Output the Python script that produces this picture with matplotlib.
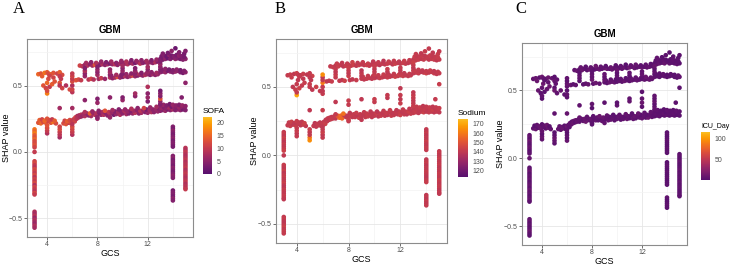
import numpy as np
import matplotlib.pyplot as plt
import matplotlib.colors as mcolors
from matplotlib.ticker import MultipleLocator

# ---- data: GCS dependence of SHAP values (GBM) ----
# vertical strips at integer GCS
strip3_gcs = 3
strip3_shap = [0.17, 0.155, 0.14, 0.125, 0.11, 0.095, 0.08, 0.065, 0.05, 0.035, 0.0,
               -0.07, -0.085, -0.10, -0.115, -0.13, -0.145, -0.16, -0.175, -0.19, -0.205,
               -0.22, -0.235, -0.25, -0.265, -0.28, -0.295, -0.31, -0.32,
               -0.45, -0.465, -0.48, -0.495, -0.51, -0.525, -0.54, -0.555, -0.57]
strip3_sofa = [16, 15, 17, 14, 13, 15, 12, 12, 13, 11, 10,
               11, 12, 10, 9, 12, 11, 10, 12, 9, 11, 10, 12, 8, 11, 10, 9, 12, 10,
               8, 7, 9, 6, 8, 7, 6, 8, 7]
strip3_sodium = [141, 142, 140, 143, 141, 139, 142, 140, 141, 143, 140,
                 142, 141, 140, 143, 139, 141, 142, 140, 141, 143, 140, 139, 142, 141, 140, 142, 141, 140,
                 141, 142, 140, 139, 141, 143, 140, 142, 141]
strip3_icu = [6, 9, 4, 12, 7, 5, 10, 8, 3, 6, 9,
              5, 7, 11, 4, 8, 6, 10, 3, 7, 9, 5, 12, 6, 8, 4, 7, 10, 5,
              6, 9, 4, 8, 5, 7, 11, 6, 4]

strip14_gcs = 14
strip14_shap = [0.19, 0.175, 0.16, 0.145, 0.13, 0.115, 0.10, 0.085, 0.07, 0.055, 0.04,
                -0.03, -0.045, -0.06, -0.075, -0.09, -0.105, -0.12, -0.135, -0.15, -0.165, -0.18, -0.195,
                -0.29, -0.305, -0.32, -0.335, -0.35, -0.365]
strip14_sofa = [4, 3, 5, 4, 3, 4, 5, 3, 4, 4, 3,
                4, 5, 3, 4, 4, 3, 5, 4, 3, 4, 5, 4,
                3, 4, 4, 3, 5, 4]
strip14_sodium = [141, 140, 142, 139, 141, 140, 143, 141, 140, 142, 141,
                  140, 141, 142, 139, 141, 140, 142, 141, 140, 139, 141, 142,
                  140, 141, 139, 142, 140, 141]
strip14_icu = [4, 6, 3, 5, 7, 4, 5, 3, 6, 4, 5,
               3, 4, 6, 5, 3, 7, 4, 5, 6, 3, 4, 5,
               6, 4, 3, 5, 7, 4]

strip15_gcs = 15
strip15_shap = [0.03, 0.015, 0.0, -0.015, -0.03, -0.045, -0.06, -0.075, -0.09, -0.105, -0.12,
                -0.135, -0.15, -0.165, -0.18, -0.195, -0.21, -0.225, -0.24, -0.255, -0.27, -0.28]
strip15_sofa = [9, 8, 10, 9, 8, 9, 10, 8, 9, 9, 10, 8, 9, 10, 9, 8, 9, 10, 8, 9, 9, 10]
strip15_sodium = [141, 142, 140, 141, 143, 140, 141, 142, 139, 141, 140,
                  142, 141, 140, 143, 141, 140, 142, 141, 139, 141, 140]
strip15_icu = [5, 7, 4, 6, 8, 5, 4, 6, 9, 5, 7, 4, 6, 5, 8, 4, 6, 7, 5, 4, 6, 5]

# lower band (SHAP ~0.2 - 0.37)
low_gcs = [3.3, 3.5, 3.7, 3.9, 4.1, 4.3, 4.5, 4.7, 3.4, 3.6, 3.8, 4.0, 4.2, 4.4, 4.6,
           5.3, 5.5, 5.7, 5.9, 5.4, 5.6, 5.8, 6.0,
           6.1, 6.25, 6.4, 6.55, 6.7, 6.2, 6.35, 6.5, 6.65,
           6.8, 7.0, 7.3, 7.5, 7.8, 8.0, 8.3, 8.5, 8.8, 9.0, 9.3, 9.5, 9.8, 10.0, 10.3, 10.5,
           10.8, 11.0, 11.3, 11.5, 11.8, 12.0, 12.3, 12.5, 12.8,
           6.9, 7.15, 7.4, 7.65, 7.9, 8.15, 8.4, 8.65, 8.9, 9.15, 9.4, 9.65, 9.9, 10.15, 10.4,
           10.65, 10.9, 11.15, 11.4, 11.65, 11.9, 12.15, 12.4, 12.65, 12.9,
           7.0, 7.6, 8.1, 8.6, 9.2, 9.7, 10.2, 10.7, 11.2, 11.7, 12.2, 12.7,
           13.0, 13.2, 13.4, 13.6, 13.8, 14.0, 14.2, 14.4, 14.6, 14.8, 15.0,
           13.1, 13.3, 13.5, 13.7, 13.9, 14.1, 14.3, 14.5, 14.7, 14.9,
           13.0, 13.25, 13.5, 13.75, 14.0, 14.25, 14.5, 14.75, 15.0]
low_shap = [0.22, 0.215, 0.225, 0.22, 0.23, 0.22, 0.225, 0.215, 0.24, 0.245, 0.235, 0.25, 0.24, 0.245, 0.235,
            0.215, 0.21, 0.22, 0.215, 0.235, 0.23, 0.24, 0.235,
            0.245, 0.26, 0.27, 0.275, 0.28, 0.23, 0.25, 0.26, 0.265,
            0.27, 0.27, 0.275, 0.27, 0.28, 0.275, 0.28, 0.28, 0.275, 0.285, 0.28, 0.285, 0.28, 0.29, 0.285, 0.29,
            0.29, 0.295, 0.29, 0.295, 0.30, 0.295, 0.30, 0.30, 0.305,
            0.285, 0.29, 0.29, 0.295, 0.29, 0.295, 0.30, 0.295, 0.30, 0.30, 0.305, 0.30, 0.305, 0.31, 0.305,
            0.31, 0.31, 0.315, 0.31, 0.315, 0.32, 0.315, 0.32, 0.32, 0.325,
            0.30, 0.305, 0.31, 0.31, 0.315, 0.32, 0.32, 0.325, 0.33, 0.33, 0.335, 0.34,
            0.31, 0.315, 0.31, 0.32, 0.315, 0.32, 0.315, 0.32, 0.315, 0.32, 0.315,
            0.33, 0.335, 0.33, 0.335, 0.34, 0.335, 0.33, 0.335, 0.34, 0.335,
            0.35, 0.355, 0.35, 0.36, 0.355, 0.35, 0.355, 0.35, 0.345]
low_sofa = [13, 15, 12, 14, 11, 13, 16, 12, 14, 11, 15, 13, 12, 10, 14,
            12, 13, 10, 12, 11, 14, 12, 10,
            10, 11, 8, 7, 9, 11, 9, 8, 7,
            6, 8, 5, 7, 9, 4, 6, 8, 5, 7, 3, 6, 8, 5, 7, 4,
            6, 9, 5, 7, 4, 6, 8, 5, 6,
            7, 5, 14, 6, 8, 4, 7, 5, 9, 6, 4, 7, 5, 8, 6,
            4, 7, 5, 9, 6, 3, 7, 5, 6, 4,
            8, 6, 5, 13, 7, 4, 6, 8, 5, 11, 6, 7,
            5, 4, 6, 3, 5, 7, 4, 6, 5, 3, 4,
            6, 4, 5, 7, 3, 5, 4, 6, 5, 4,
            5, 6, 4, 3, 6, 5, 4, 6, 5]
low_sodium = [141, 142, 140, 143, 141, 139, 142, 140, 141, 143, 140, 142, 141, 140, 143,
              141, 140, 142, 141, 139, 141, 140, 142,
              141, 140, 142, 141, 140, 143, 141, 140, 142,
              141, 140, 157, 155, 141, 142, 140, 141, 143, 140, 141, 142, 140, 141, 139, 142,
              141, 140, 142, 141, 140, 143, 141, 140, 142,
              141, 152, 156, 141, 140, 142, 141, 139, 141, 140, 142, 141, 140, 143, 141,
              140, 142, 141, 140, 141, 142, 140, 141, 143, 140,
              141, 158, 140, 142, 141, 140, 139, 141, 142, 140, 141, 140,
              141, 142, 140, 141, 143, 140, 141, 142, 140, 141, 140,
              142, 141, 140, 141, 142, 140, 141, 143, 140, 141,
              140, 141, 142, 140, 141, 142, 140, 141, 142]
low_icu = [6, 9, 4, 12, 7, 5, 10, 8, 3, 6, 9, 5, 7, 11, 4,
           8, 6, 10, 3, 7, 9, 5, 12,
           6, 8, 4, 7, 10, 5, 6, 9, 4,
           8, 5, 7, 11, 6, 4, 9, 5, 7, 3, 6, 8, 5, 7, 4, 6,
           9, 5, 7, 4, 6, 8, 5, 10, 6,
           7, 5, 9, 6, 8, 4, 7, 5, 9, 6, 4, 7, 5, 8, 6,
           4, 7, 5, 9, 6, 3, 7, 5, 6, 4,
           8, 6, 5, 10, 7, 4, 6, 8, 5, 9, 6, 7,
           5, 4, 6, 3, 5, 7, 4, 6, 5, 3, 4,
           6, 4, 5, 7, 3, 5, 4, 6, 5, 4,
           5, 6, 4, 3, 6, 5, 4, 6, 5]

# upper bands (SHAP ~0.53 - 0.78)
up_gcs = [6.6, 6.8, 7.0, 7.2, 7.4, 7.6, 7.8, 8.0, 8.2, 8.4, 8.6, 8.8, 9.0, 9.2, 9.4, 9.6,
          9.8, 10.0, 10.2, 10.4, 10.6, 10.8, 11.0, 11.2, 11.4, 11.6, 11.8, 12.0, 12.2, 12.4, 12.6, 12.8,
          7.1, 7.5, 7.9, 8.3, 8.7, 9.1, 9.5, 9.9, 10.3, 10.7, 11.1, 11.5, 11.9, 12.3, 12.7,
          6.3, 6.5, 6.7, 7.3, 7.5, 7.7, 8.1, 8.3, 8.6, 9.0, 9.2, 9.4, 9.6, 9.8, 10.0,
          10.2, 10.4, 10.6, 10.8, 11.0, 11.2, 11.4, 11.6, 11.8, 12.0, 12.2, 12.4, 12.6, 12.8,
          9.1, 9.5, 9.9, 10.3, 10.7, 11.1, 11.5, 11.9, 12.3, 12.7,
          13.0, 13.2, 13.4, 13.6, 13.8, 14.0, 14.2, 14.4, 14.6, 14.8, 15.0,
          13.1, 13.3, 13.5, 13.7, 13.9, 14.1, 14.3, 14.5, 14.7, 14.9,
          13.2, 13.6, 13.9, 14.2, 14.5, 14.9, 15.0,
          13.0, 13.2, 13.4, 13.6, 13.8, 14.0, 14.2, 14.4, 14.6, 14.8, 15.0,
          13.1, 13.4, 13.7, 14.0, 14.3, 14.6, 14.9]
up_shap = [0.65, 0.645, 0.655, 0.65, 0.66, 0.65, 0.655, 0.66, 0.655, 0.66, 0.655, 0.66, 0.665, 0.66, 0.66, 0.655,
           0.665, 0.67, 0.665, 0.66, 0.67, 0.665, 0.67, 0.675, 0.665, 0.67, 0.675, 0.67, 0.675, 0.67, 0.675, 0.68,
           0.67, 0.675, 0.67, 0.68, 0.675, 0.68, 0.67, 0.685, 0.68, 0.69, 0.685, 0.69, 0.685, 0.69, 0.695,
           0.54, 0.545, 0.54, 0.545, 0.55, 0.545, 0.55, 0.555, 0.55, 0.56, 0.555, 0.56, 0.565, 0.56, 0.565,
           0.57, 0.565, 0.57, 0.575, 0.57, 0.575, 0.58, 0.575, 0.58, 0.585, 0.58, 0.585, 0.58, 0.585,
           0.575, 0.58, 0.58, 0.585, 0.59, 0.59, 0.595, 0.59, 0.60, 0.595,
           0.70, 0.695, 0.70, 0.705, 0.70, 0.71, 0.70, 0.705, 0.70, 0.695, 0.70,
           0.72, 0.725, 0.72, 0.73, 0.725, 0.72, 0.73, 0.725, 0.72, 0.715,
           0.74, 0.745, 0.76, 0.78, 0.75, 0.74, 0.76,
           0.60, 0.605, 0.60, 0.61, 0.605, 0.60, 0.605, 0.61, 0.60, 0.595, 0.60,
           0.62, 0.625, 0.62, 0.615, 0.62, 0.615, 0.61]
up_sofa = [11, 9, 6, 8, 5, 7, 13, 6, 4, 8, 5, 7, 3, 6, 9, 5,
           7, 4, 6, 8, 5, 7, 3, 6, 9, 5, 4, 7, 6, 5, 8, 4,
           7, 5, 8, 6, 4, 7, 5, 6, 8, 4, 6, 5, 7, 4, 6,
           13, 12, 10, 9, 11, 8, 7, 10, 6, 8, 5, 7, 13, 6, 4,
           8, 5, 7, 12, 6, 4, 7, 5, 8, 6, 4, 7, 5, 6,
           5, 7, 4, 6, 5, 8, 4, 6, 5, 7,
           4, 3, 5, 2, 4, 3, 5, 4, 3, 4, 5,
           3, 4, 2, 5, 3, 4, 3, 5, 4, 3,
           4, 3, 5, 2, 4, 3, 4,
           5, 4, 6, 3, 5, 4, 6, 5, 4, 3, 5,
           4, 5, 3, 4, 5, 3, 4]
up_sodium = [141, 142, 140, 143, 141, 139, 142, 140, 141, 143, 140, 142, 141, 140, 143, 141,
             140, 142, 141, 139, 141, 140, 142, 141, 140, 143, 141, 140, 142, 141, 140, 141,
             142, 140, 141, 143, 140, 141, 142, 140, 141, 139, 142, 141, 140, 142, 141,
             141, 140, 142, 141, 140, 143, 141, 140, 142, 141, 140, 141, 142, 140, 141,
             139, 142, 141, 140, 142, 141, 140, 143, 141, 140, 142, 141, 140, 141,
             142, 141, 140, 141, 142, 140, 141, 143, 140, 141,
             140, 141, 142, 140, 141, 142, 140, 141, 142, 140, 141,
             142, 140, 141, 142, 140, 141, 142, 140, 141, 142,
             141, 140, 142, 141, 140, 142, 141,
             140, 141, 142, 140, 141, 143, 140, 141, 142, 140, 141,
             142, 141, 140, 141, 142, 140, 141]
up_icu = [6, 9, 4, 12, 7, 5, 10, 8, 3, 6, 9, 5, 7, 11, 4, 8,
          6, 10, 3, 7, 9, 5, 12, 6, 8, 4, 7, 10, 5, 6, 9, 4,
          8, 5, 7, 11, 6, 4, 9, 5, 7, 3, 6, 8, 5, 7, 4,
          9, 5, 7, 4, 6, 8, 5, 10, 6, 7, 5, 9, 6, 8, 4,
          7, 5, 9, 6, 4, 7, 5, 8, 6, 4, 7, 5, 9, 6,
          3, 7, 5, 6, 4, 8, 6, 5, 10, 7,
          4, 6, 8, 5, 9, 6, 7, 5, 4, 6, 3,
          5, 7, 4, 6, 5, 3, 4, 6, 4, 5,
          7, 3, 5, 4, 6, 5, 4,
          6, 4, 5, 3, 6, 5, 4, 6, 5, 4, 6,
          5, 4, 6, 3, 5, 4, 6]

# sparse points: left cluster, vertical columns, points between bands
sparse_gcs = [3.3, 3.5, 3.8, 4.0, 4.1, 4.3, 4.5, 4.8, 5.0, 5.2,
              3.7, 3.9, 4.0, 4.1, 4.2, 4.4, 4.5, 4.6, 4.0, 4.0, 5.0, 5.0, 5.0, 5.2, 5.5, 5.8, 5.1, 3.6, 4.2,
              4.0, 4.0, 4.0, 4.0, 5.0, 5.0, 5.0, 5.0, 5.0, 6.0, 6.0, 6.0, 6.0, 6.0,
              6.0, 6.0, 6.0, 6.0, 6.0, 6.0, 6.0, 6.0,
              7.0, 7.0, 7.0, 7.0, 8.0, 8.0, 8.0, 8.0, 9.0, 9.0, 9.0, 10.0, 10.0, 10.0, 10.0,
              11.0, 11.0, 11.0, 12.0, 12.0, 12.0, 13.0, 13.0, 13.0, 13.0,
              7.0, 8.0, 8.0, 9.0, 10.0, 10.0, 11.0, 11.0, 12.0, 12.0, 12.0, 12.0,
              13.0, 13.0, 13.0, 13.0, 13.0, 13.0, 14.7, 15.0, 5.0, 8.0, 8.0, 9.0]
sparse_shap = [0.585, 0.59, 0.595, 0.60, 0.59, 0.585, 0.595, 0.59, 0.60, 0.58,
               0.50, 0.48, 0.52, 0.55, 0.49, 0.51, 0.56, 0.53, 0.44, 0.46, 0.57, 0.52, 0.50, 0.48, 0.50, 0.47, 0.55, 0.57, 0.575,
               0.14, 0.16, 0.18, 0.20, 0.11, 0.13, 0.15, 0.17, 0.19, 0.13, 0.15, 0.17, 0.19, 0.21,
               0.33, 0.45, 0.47, 0.50, 0.53, 0.55, 0.57, 0.59,
               0.57, 0.59, 0.61, 0.63, 0.58, 0.60, 0.62, 0.64, 0.58, 0.60, 0.62, 0.59, 0.61, 0.63, 0.65,
               0.59, 0.61, 0.63, 0.60, 0.62, 0.64, 0.62, 0.64, 0.66, 0.68,
               0.39, 0.37, 0.40, 0.41, 0.39, 0.41, 0.42, 0.44, 0.38, 0.41, 0.44, 0.49,
               0.36, 0.38, 0.40, 0.42, 0.44, 0.46, 0.41, 0.52, 0.33, 0.25, 0.26, 0.26]
sparse_sofa = [15, 13, 16, 14, 12, 15, 13, 11, 14, 12,
               13, 11, 15, 12, 10, 14, 11, 13, 17, 12, 10, 13, 9, 11, 8, 12, 10, 14, 11,
               8, 10, 12, 13, 7, 9, 10, 12, 11, 8, 10, 11, 12, 9,
               7, 9, 11, 8, 12, 10, 11, 10,
               6, 5, 8, 4, 7, 5, 6, 4, 5, 7, 6, 4, 6, 5, 7,
               5, 6, 4, 6, 5, 7, 4, 5, 6, 4,
               5, 6, 4, 5, 6, 4, 5, 7, 4, 6, 5, 8,
               4, 5, 13, 4, 5, 3, 4, 5, 7, 6, 5, 6]
sparse_sodium = [141, 142, 140, 143, 141, 139, 142, 140, 141, 143,
                 140, 142, 141, 140, 143, 141, 140, 142, 170, 141, 140, 142, 141, 140, 143, 141, 140, 142, 141,
                 141, 140, 142, 141, 165, 160, 141, 140, 142, 141, 140, 143, 141, 140,
                 142, 141, 140, 141, 160, 141, 140, 165,
                 141, 142, 140, 141, 143, 140, 141, 142, 140, 141, 139, 142, 141, 140, 142,
                 141, 140, 142, 141, 140, 141, 142, 140, 141, 143,
                 140, 141, 142, 140, 141, 142, 140, 141, 142, 140, 141, 140,
                 142, 141, 140, 141, 142, 140, 141, 142, 140, 141, 142, 140]
sparse_icu = [6, 9, 4, 12, 7, 5, 10, 8, 3, 6,
              9, 5, 7, 11, 4, 8, 6, 10, 3, 7, 9, 5, 12, 6, 8, 4, 7, 10, 5,
              6, 9, 4, 8, 5, 7, 11, 6, 4, 9, 5, 7, 3, 6,
              8, 5, 7, 4, 6, 9, 5, 7,
              4, 6, 8, 5, 10, 6, 7, 5, 9, 6, 8, 4, 7, 5, 9,
              6, 4, 7, 5, 8, 6, 4, 7, 5, 9,
              6, 3, 7, 5, 6, 4, 8, 6, 5, 10, 7, 4,
              6, 8, 5, 9, 6, 7, 5, 4, 6, 3, 5, 7]


def strip_x(gcs, shap):
    return [gcs] * len(shap)


gcs = np.concatenate([strip_x(strip3_gcs, strip3_shap), strip_x(strip14_gcs, strip14_shap),
                      strip_x(strip15_gcs, strip15_shap), low_gcs, up_gcs, sparse_gcs])
shap = np.concatenate([strip3_shap, strip14_shap, strip15_shap, low_shap, up_shap, sparse_shap])
sofa = np.concatenate([strip3_sofa, strip14_sofa, strip15_sofa, low_sofa, up_sofa, sparse_sofa])
sodium = np.concatenate([strip3_sodium, strip14_sodium, strip15_sodium, low_sodium, up_sodium, sparse_sodium])
icu_day = np.concatenate([strip3_icu, strip14_icu, strip15_icu, low_icu, up_icu, sparse_icu])

plt.rcParams['font.family'] = ['Liberation Sans', 'DejaVu Sans']

# shapviz style palette: inferno, begin 0.25, end 0.85
base = plt.get_cmap('inferno')
cmap = mcolors.LinearSegmentedColormap.from_list('inf_cut', base(np.linspace(0.25, 0.85, 256)))

panels = [
    ('A', sofa, 'SOFA', (0, 22), [0, 5, 10, 15, 20],
     [27, 39, 193, 237], [203, 117, 212, 174], 13, 11),
    ('B', sodium, 'Sodium', (113, 175), [120, 130, 140, 150, 160, 170],
     [276, 39, 447, 243], [458, 119, 468, 177], 275, 259),
    ('C', icu_day, 'ICU_Day', (1, 115), [50, 100],
     [522, 43, 687, 245], [701, 132, 710, 180], 515, 505),
]

W, H = 730, 266
fig = plt.figure(figsize=(W / 100, H / 100), dpi=100)


def frac(box):
    l, t, r, b = box
    return [l / W, 1 - b / H, (r - l) / W, (b - t) / H]


for letter, cvals, cname, (vmin, vmax), cticks, abox, cbox, lx, ylx in panels:
    ax = fig.add_axes(frac(abox))
    sc = ax.scatter(gcs, shap, c=cvals, cmap=cmap, vmin=vmin, vmax=vmax,
                    s=11, linewidths=0, zorder=3)
    ax.set_xlim(2.4, 15.6)
    ax.set_ylim(-0.64, 0.85)
    ax.xaxis.set_major_locator(MultipleLocator(4))
    ax.xaxis.set_minor_locator(MultipleLocator(2))
    ax.yaxis.set_major_locator(MultipleLocator(0.5))
    ax.yaxis.set_minor_locator(MultipleLocator(0.25))
    ax.yaxis.set_major_formatter(plt.FuncFormatter(lambda v, p: f'{v:.1f}'.replace('-', '\u2212')))
    ax.grid(which='major', color='#e6e6e6', lw=0.6, zorder=0)
    ax.grid(which='minor', color='#f3f3f3', lw=0.5, zorder=0)
    ax.tick_params(which='major', labelsize=5, labelcolor='#4d4d4d', color='#333333',
                   length=2, width=0.5, pad=1)
    ax.tick_params(which='minor', length=0)
    for sp in ax.spines.values():
        sp.set_color('#8c8c8c')
        sp.set_linewidth(0.8)
    ax.set_xlabel('GCS', fontsize=6.5, labelpad=0.5)
    ax.set_ylabel('SHAP value', fontsize=6.5)
    # place y label at a fixed pixel column
    ax.yaxis.set_label_coords((ylx - abox[0]) / (abox[2] - abox[0]), 0.5)
    ax.set_title('GBM', fontsize=7, fontweight='bold', pad=4)

    cax = fig.add_axes(frac(cbox))
    cb = fig.colorbar(sc, cax=cax, ticks=cticks)
    cb.outline.set_visible(False)
    cb.ax.tick_params(labelsize=5, labelcolor='#4d4d4d', length=2, color='white', width=0.5, pad=1.5)
    cax.set_title(cname, fontsize=5 if cname == 'ICU_Day' else 6, loc='left', pad=3)

    fig.text(lx / W, 0.995, letter, fontfamily='Liberation Serif', fontsize=12,
             color='black', ha='left', va='top', zorder=10)

fig.savefig('out.png', dpi=100)
